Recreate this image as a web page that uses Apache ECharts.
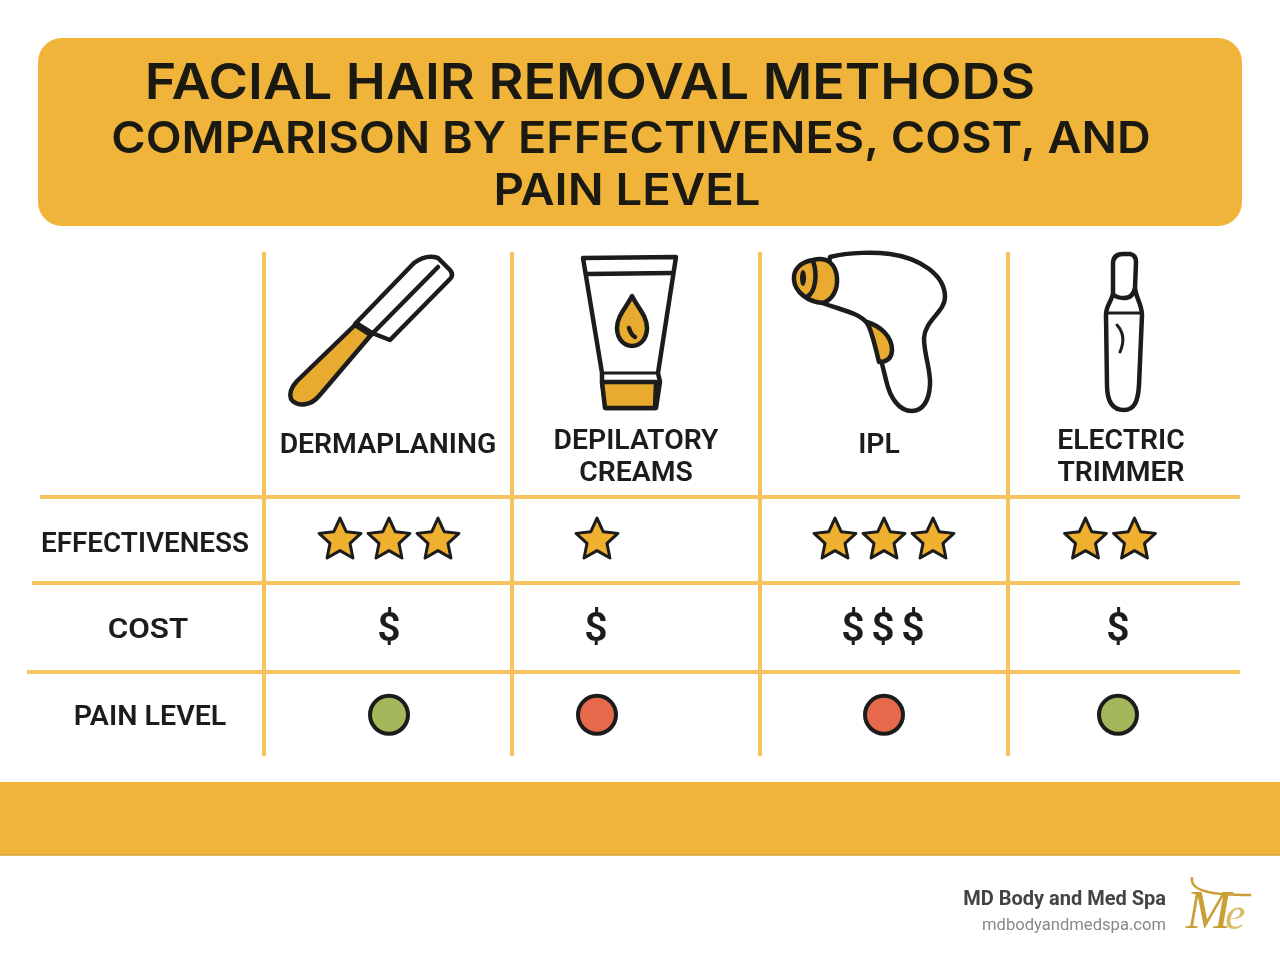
<!DOCTYPE html>
<html lang="en">
<head>
    <meta charset="UTF-8">
    <title>Facial hair removal methods</title>
    <style>html,body{margin:0;padding:0;background:#fff}</style>
</head>
<body>
<div id="main" style="width:1280px;height:962px;"></div>
<script src="https://cdn.jsdelivr.net/npm/echarts@6/dist/echarts.min.js"></script>
<script type="text/javascript">

    // table content
    var methods = ['DERMAPLANING', 'DEPILATORY\nCREAMS', 'IPL', 'ELECTRIC\nTRIMMER'];
    var rows = ['EFFECTIVENESS', 'COST', 'PAIN LEVEL'];
    var effectiveness = [3, 1, 3, 2];   // stars
    var cost = [1, 1, 3, 1];            // dollar signs
    var pain = ['low', 'high', 'high', 'low'];
    var titleLines = ['FACIAL HAIR REMOVAL METHODS', 'COMPARISON BY EFFECTIVENES, COST, AND', 'PAIN LEVEL'];

    var gold = '#f1b43b';
    var rule = '#f5c45f';
    var ink = '#1c1c1c';
    var painColors = { low: '#a3b85a', high: '#e5694a' };

    // the marks in the picture are not centred in their columns, horizontal shift per column
    var labelShift = [0, 0, -5, -11];
    var starShift = [1, -39, 0, -22];
    var costShift = [1, -40, -1, -14];
    var dotShift = [1, -39, 0, -14];
    // row names sit left of the first column, stretched a little to the reference widths
    var rowLabelShift = [-243, -240, -238];
    var rowLabelStretch = [1.03, 1.16, 1.06];

    function starPoints(cx, cy, R, r) {
        var pts = [];
        for (var i = 0; i < 10; i++) {
            var a = -Math.PI / 2 + i * Math.PI / 5;
            var d = i % 2 ? r : R;
            pts.push([cx + d * Math.cos(a), cy + d * Math.sin(a)]);
        }
        return pts;
    }

    // outlined shape used by the icons
    function shape(d, fill, width) {
        return {
            type: 'path',
            shape: { pathData: d },
            style: { fill: fill || 'none', stroke: ink, lineWidth: width || 4.5, lineJoin: 'round', lineCap: 'round' }
        };
    }

    function hLine(x1, x2, y) {
        return { type: 'line', shape: { x1: x1, y1: y, x2: x2, y2: y }, style: { stroke: rule, lineWidth: 4 }, z: 1 };
    }
    function vLine(x) {
        return { type: 'line', shape: { x1: x, y1: 252, x2: x, y2: 756 }, style: { stroke: rule, lineWidth: 4 }, z: 1 };
    }
    function titleText(text, x, y, size, sx) {
        return {
            type: 'text', x: x, y: y, scaleX: sx, z: 3,
            style: { text: text, fill: '#1a1a12', font: '600 ' + size + 'px Inter', align: 'center', verticalAlign: 'middle' }
        };
    }

    var iconParts = [
        // dermaplaning blade
        shape('M355 325 L297 381 Q288 391 291 399 Q296 406 306 404 Q313 403 319 396 L371 335 Z', '#e8ab30'),
        shape('M356 323 L414 263 Q426 254 438 258 L450 270 Q454 275 450 279 L390 340 L372 333 Z', '#fff'),
        shape('M355 324 L371 335 L438 267', 'none'),

        // depilatory cream tube
        shape('M583 258 L676 257 L658 373 L660 382 L656 408 L606 408 L602 382 L602 373 Z', '#fff'),
        shape('M587 274 L672 273', 'none'),
        shape('M602 373 L658 373', 'none', 3),
        shape('M602 382 L656 382 L655 408 L605 408 Z', '#e8ab30'),
        shape('M632 296 C626 308 617 316 617 328 C617 340 625 346 632 346 C640 346 647 339 647 328 C647 316 638 308 632 296 Z', '#e8ab30'),
        shape('M629 328 Q631 335 635 337', 'none'),

        // IPL device
        shape('M830 257 C850 252 875 252 890 254 C920 258 945 275 945 297 C945 312 925 320 924 338 C924 355 931 370 930 385 C929 402 922 411 912 411 C899 411 890 398 886 380 C880 355 875 335 867 323 C858 312 840 310 823 303 Z', '#fff'),
        shape('M867 322 C880 326 892 336 892 350 C892 358 887 362 879 362 C875 345 872 332 867 322 Z', '#e8ab30'),
        shape('M813 260 C800 262 793 270 794 280 C795 292 808 302 823 303 C832 300 838 290 837 278 C836 265 828 256 813 260 Z', '#e8ab30'),
        shape('M813 261 C818 275 815 292 808 296', 'none'),
        { type: 'ellipse', shape: { cx: 803, cy: 278, rx: 3, ry: 8 }, style: { fill: ink } },

        // electric trimmer
        shape('M1113 294 C1111 302 1106 306 1106 315 L1107 385 C1107 402 1113 410 1124 410 C1134 410 1138 402 1139 385 L1142 315 C1142 305 1136 298 1135 288', '#fff'),
        shape('M1113 294 L1113 264 Q1113 254 1123 254 L1130 254 Q1136 255 1136 262 L1135 288 Q1133 298 1124 298 Q1116 298 1113 294 Z', '#fff'),
        shape('M1107 313 L1140 313', 'none', 3),
        shape('M1117 325 Q1127 336 1120 352', 'none', 3),

        // logo swoosh
        { type: 'path', shape: { pathData: 'M1192 878 C1190 892 1215 895 1250 895' }, style: { fill: 'none', stroke: '#c9a035', lineWidth: 2.5, lineCap: 'round' } }
    ];

    var graphics = [
        // header and bottom band
        { type: 'rect', shape: { x: 38, y: 38, width: 1204, height: 188, r: 24 }, style: { fill: gold }, z: 0 },
        { type: 'rect', shape: { x: 0, y: 782, width: 1280, height: 73 }, style: { fill: gold }, z: 0 },
        { type: 'line', shape: { x1: 0, y1: 855, x2: 1280, y2: 855 }, style: { stroke: '#d9a02e', lineWidth: 1.5 }, z: 1 },
        titleText(titleLines[0], 590, 84, 50, 1.074),
        titleText(titleLines[1], 631, 140, 44, 1.062),
        titleText(titleLines[2], 627, 192, 44, 1.074),
        // table rules
        hLine(40, 1240, 497), hLine(32, 1240, 583), hLine(27, 1240, 672),
        vLine(264), vLine(512), vLine(760), vLine(1008),

        // footer
        { type: 'text', x: 1166, y: 900, z: 3, style: { text: 'MD Body and Med Spa', fill: '#444444', font: '700 20px Roboto', align: 'right', verticalAlign: 'middle' } },
        { type: 'text', x: 1166, y: 926, z: 3, style: { text: 'mdbodyandmedspa.com', fill: '#888888', font: '400 16.6px Roboto', align: 'right', verticalAlign: 'middle' } },
        { type: 'text', x: 1186, y: 914, z: 3, style: { text: 'M', fill: '#c9a035', font: 'italic 54px "Liberation Serif"', align: 'left', verticalAlign: 'middle' } },
        { type: 'text', x: 1225, y: 917, z: 3, style: { text: 'e', fill: '#d8bc6a', font: 'italic 46px "Liberation Serif"', align: 'left', verticalAlign: 'middle' } }
    ];

    var option = {
        animation: false,
        backgroundColor: '#fff',
        graphic: { elements: graphics },
        grid: { left: 264, width: 992, top: 499, height: 259 },
        xAxis: {
            type: 'category',
            data: methods,
            axisLine: { show: false },
            axisTick: { show: false },
            axisLabel: { show: false },
            splitLine: { show: false }
        },
        yAxis: {
            type: 'category',
            data: rows,
            inverse: true,
            axisLine: { show: false },
            axisTick: { show: false },
            axisLabel: { show: false },
            splitLine: { show: false }
        },
        series: [
            {
                // line art above the table
                type: 'custom',
                coordinateSystem: 'cartesian2d',
                clip: false,
                silent: true,
                data: [[0, rows[0]]],
                renderItem: function () {
                    return { type: 'group', children: iconParts };
                }
            },
            {
                // method names above the table, placed from the column positions
                type: 'custom',
                coordinateSystem: 'cartesian2d',
                clip: false,
                data: methods.map(function (m, i) { return [i, rows[0]]; }),
                renderItem: function (params, api) {
                    var i = params.dataIndex;
                    var p = api.coord([i, rows[0]]);
                    return {
                        type: 'text', x: p[0] + labelShift[i], y: p[1] - (methods[i].indexOf('\n') > 0 ? 84 : 96), scaleX: 1.05,
                        style: { text: methods[i], fill: '#1c1c1c', font: '600 27px Roboto', align: 'center', verticalAlign: 'middle', lineHeight: 32 }
                    };
                }
            },
            {
                // row names
                type: 'custom',
                coordinateSystem: 'cartesian2d',
                clip: false,
                data: rows.map(function (r) { return [0, r]; }),
                renderItem: function (params, api) {
                    var i = params.dataIndex;
                    var p = api.coord([0, rows[i]]);
                    return {
                        type: 'text', x: p[0] + rowLabelShift[i], y: p[1] + 3, scaleX: rowLabelStretch[i],
                        style: { text: rows[i], fill: '#1c1c1c', font: '600 27px Roboto', align: 'center', verticalAlign: 'middle' }
                    };
                }
            },
            {
                name: 'Effectiveness',
                type: 'custom',
                coordinateSystem: 'cartesian2d',
                clip: false,
                data: effectiveness.map(function (n, i) { return [i, rows[0], n]; }),
                renderItem: function (params, api) {
                    var i = params.dataIndex;
                    var n = effectiveness[i];
                    var p = api.coord([i, rows[0]]);
                    var kids = [];
                    for (var k = 0; k < n; k++) {
                        kids.push({
                            type: 'polygon',
                            shape: { points: starPoints(p[0] + starShift[i] + (k - (n - 1) / 2) * 49, p[1] - 2, 22, 10.5) },
                            style: { fill: '#f0b02f', stroke: ink, lineWidth: 3, lineJoin: 'round' }
                        });
                    }
                    return { type: 'group', children: kids };
                }
            },
            {
                name: 'Cost',
                type: 'custom',
                coordinateSystem: 'cartesian2d',
                clip: false,
                data: cost.map(function (n, i) { return [i, rows[1], n]; }),
                renderItem: function (params, api) {
                    var i = params.dataIndex;
                    var n = cost[i];
                    var p = api.coord([i, rows[1]]);
                    var kids = [];
                    for (var k = 0; k < n; k++) {
                        kids.push({
                            type: 'text', x: p[0] + costShift[i] + (k - (n - 1) / 2) * 30, y: p[1] + 2,
                            style: { text: '$', fill: ink, font: '600 41px Roboto', align: 'center', verticalAlign: 'middle' }
                        });
                    }
                    return { type: 'group', children: kids };
                }
            },
            {
                name: 'Pain level',
                type: 'scatter',
                symbol: 'circle',
                symbolSize: 38,
                data: pain.map(function (level, i) {
                    return {
                        value: [i, rows[2]],
                        symbolOffset: [dotShift[i], 0],
                        itemStyle: { color: painColors[level], borderColor: ink, borderWidth: 4, opacity: 1 }
                    };
                })
            }
        ]
    };

    var myChart = echarts.init(document.getElementById('main'));
    myChart.setOption(option);
</script>
</body>
</html>
